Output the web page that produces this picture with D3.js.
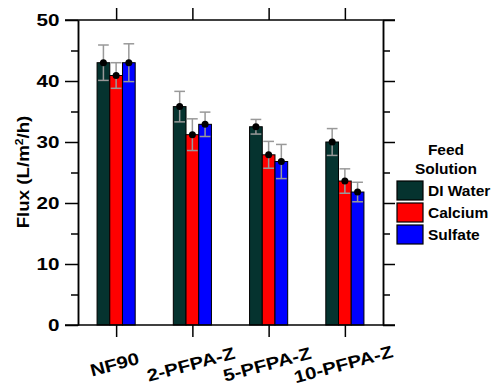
<!DOCTYPE html>
<meta charset="utf-8">
<head>
<script src="https://d3js.org/d3.v7.min.js"></script>
<style>
  body { margin: 0; background: #fff; }
  text { font-family: Arial, "Liberation Sans", sans-serif; font-weight: bold; fill: #000; }
  .axis path, .axis line { stroke: #000; stroke-width: 1.5; }
</style>
</head>
<body>
<svg width="500" height="388"></svg>
<script>

var categories = ["NF90", "2-PFPA-Z", "5-PFPA-Z", "10-PFPA-Z"],
    series = ["DI Water", "Calcium", "Sulfate"],
    colors = ["#05332F", "#FF0000", "#0000FF"]

var diWater = [43.0, 35.8, 32.5, 30.0],
    calcium = [40.9, 31.2, 27.9, 23.6],
    sulfate = [43.0, 32.9, 26.8, 21.8]

var diWaterErr = [2.9, 2.5, 1.2, 2.2],
    calciumErr = [2.1, 2.6, 2.2, 2.0],
    sulfateErr = [3.1, 2.0, 2.8, 1.6]

var yTicks = [0, 10, 20, 30, 40, 50],
    yMinor = [5, 15, 25, 35, 45]

var values = [diWater, calcium, sulfate],
    errs = [diWaterErr, calciumErr, sulfateErr]

var svg = d3.select("svg"),
    pLeft = 78, pRight = 383, pTop = 20, pBottom = 325

var xScale = d3.scaleBand().domain(categories).range([pLeft, pRight])
        .paddingInner(0.5).paddingOuter(0.25),
    xInner = d3.scaleBand().domain(series).range([0, xScale.bandwidth()]),
    yScale = d3.scaleLinear().domain([0, 50]).range([pBottom, pTop])

// bars
var data = []
categories.forEach(function(c, i) {
    series.forEach(function(s, j) {
        data.push({cat: c, s: s, v: values[j][i], e: errs[j][i], color: colors[j]})
    })
})

var bars = svg.append("g").selectAll("g").data(data).enter().append("g")
    .attr("transform", function(d) { return "translate(" + (xScale(d.cat) + xInner(d.s)) + ",0)" })

bars.append("rect")
    .attr("x", 0)
    .attr("y", function(d) { return yScale(d.v) })
    .attr("width", xInner.bandwidth())
    .attr("height", function(d) { return pBottom - yScale(d.v) })
    .attr("fill", function(d) { return d.color })
    .attr("stroke", "#000")
    .attr("stroke-width", 1)

var bw = xInner.bandwidth(), cw = bw / 2 - 1

bars.append("line")
    .attr("x1", bw / 2).attr("x2", bw / 2)
    .attr("y1", function(d) { return yScale(d.v + d.e) })
    .attr("y2", function(d) { return yScale(d.v - d.e) })
    .attr("stroke", "#999").attr("stroke-width", 1.5)

bars.append("line")
    .attr("x1", bw / 2 - cw).attr("x2", bw / 2 + cw)
    .attr("y1", function(d) { return yScale(d.v + d.e) })
    .attr("y2", function(d) { return yScale(d.v + d.e) })
    .attr("stroke", "#999").attr("stroke-width", 1.5)

bars.append("line")
    .attr("x1", bw / 2 - cw).attr("x2", bw / 2 + cw)
    .attr("y1", function(d) { return yScale(d.v - d.e) })
    .attr("y2", function(d) { return yScale(d.v - d.e) })
    .attr("stroke", "#999").attr("stroke-width", 1.5)

bars.append("circle")
    .attr("cx", bw / 2)
    .attr("cy", function(d) { return yScale(d.v) })
    .attr("r", 3.5)
    .attr("fill", "#000")

// axes
var axL = svg.append("g").attr("class", "axis")
    .attr("transform", "translate(" + pLeft + ",0)")
    .call(d3.axisLeft(yScale).tickValues(yTicks).tickSize(13).tickPadding(5).tickSizeOuter(0))
axL.selectAll("text").style("font-size", "16.5px")
    .attr("x", -18.5 / 1.25).attr("transform", "scale(1.25,1)")

svg.append("g").attr("class", "axis")
    .attr("transform", "translate(" + pLeft + ",0)")
    .call(d3.axisLeft(yScale).tickValues(yMinor).tickSize(7).tickFormat("").tickSizeOuter(0))

svg.append("g").attr("class", "axis")
    .attr("transform", "translate(" + pRight + ",0)")
    .call(d3.axisRight(yScale).tickValues(yTicks).tickSize(12).tickFormat("").tickSizeOuter(0))

svg.append("g").attr("class", "axis")
    .attr("transform", "translate(" + pRight + ",0)")
    .call(d3.axisRight(yScale).tickValues(yMinor).tickSize(7).tickFormat("").tickSizeOuter(0))

var xCenter = d3.scalePoint().domain(categories)
    .range([xScale(categories[0]) + xScale.bandwidth() / 2,
            xScale(categories[3]) + xScale.bandwidth() / 2])

svg.append("g").attr("class", "axis")
    .attr("transform", "translate(0," + pBottom + ")")
    .call(d3.axisBottom(xCenter).tickSize(12).tickFormat("").tickSizeOuter(0))
    .select(".domain").attr("d", "M" + (pLeft - 13) + ",0H" + (pRight + 12))

svg.append("g").attr("class", "axis")
    .attr("transform", "translate(0," + pTop + ")")
    .call(d3.axisTop(xCenter).tickSize(12).tickFormat("").tickSizeOuter(0))
    .select(".domain").attr("d", "M" + (pLeft - 13) + ",0H" + (pRight + 12))

// rotated category labels
svg.append("g").selectAll("text").data(categories).enter().append("text")
    .attr("transform", function(d) { return "translate(" + xCenter(d) + ",370) rotate(-15) scale(1.2,1)" })
    .attr("text-anchor", "middle")
    .style("font-size", "17px")
    .text(function(d) { return d })

// y title
svg.append("text")
    .attr("transform", "translate(29,172) rotate(-90) scale(1.1,1)")
    .attr("text-anchor", "middle")
    .style("font-size", "17px")
    .html("Flux (L/m<tspan dy='-6' style='font-size:11px'>2</tspan><tspan dy='6'>/h)</tspan>")

// legend
svg.append("text").attr("x", 446).attr("y", 155).attr("text-anchor", "middle")
    .style("font-size", "15.5px").text("Feed")
svg.append("text").attr("x", 446).attr("y", 174).attr("text-anchor", "middle")
    .style("font-size", "15.5px").text("Solution")

var leg = svg.append("g").selectAll("g").data(series).enter().append("g")
    .attr("transform", function(d, i) { return "translate(397," + (181 + i * 22) + ")" })
leg.append("rect").attr("width", 26).attr("height", 19)
    .attr("fill", function(d, i) { return colors[i] })
    .attr("stroke", "#000").attr("stroke-width", 1.2)
leg.append("text").attr("x", 31).attr("y", 15)
    .style("font-size", "15.5px").text(function(d) { return d })

</script>
</body>
